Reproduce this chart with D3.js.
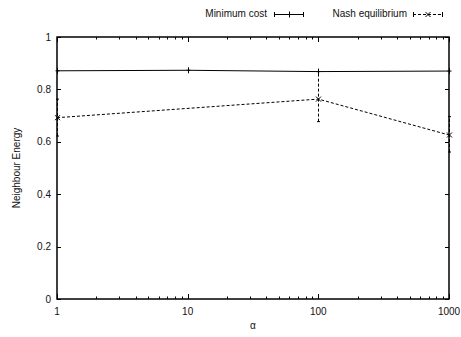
<!DOCTYPE html>
<html>
<head>
<meta charset="utf-8">
<script src="https://cdn.jsdelivr.net/npm/d3@7"></script>
<style>
  body { margin: 0; background: #fff; }
  text { font-family: "Liberation Sans", Arial, sans-serif; font-size: 10px; fill: #111; }
</style>
</head>
<body>
<svg width="461" height="337"></svg>
<script>
var alphas = [1, 10, 100, 1000];
var minCost = [0.871, 0.873, 0.868, 0.870];
var minCostLo = [0.868, 0.870, 0.865, 0.867];
var minCostHi = [0.874, 0.876, 0.871, 0.873];
var nashAlphas = [1, 100, 1000];
var nash = [0.692, 0.763, 0.626];
var nashLo = [0.622, 0.677, 0.561];
var nashHi = [0.763, 0.868, 0.696];
var yTicks = [0, 0.2, 0.4, 0.6, 0.8, 1];
var xTicks = [1, 10, 100, 1000];

var svg = d3.select("svg");
var pLeft = 57, pRight = 449, pTop = 37, pBottom = 299;

var x = d3.scaleLog().domain([1, 1000]).range([pLeft, pRight]);
var y = d3.scaleLinear().domain([0, 1]).range([pBottom, pTop]);

// minor ticks 2..9 per decade
var minor = [];
[1, 10, 100].forEach(function(d) {
  for (var k = 2; k <= 9; k++) minor.push(d * k);
});

var g = svg.append("g").attr("stroke", "#000").attr("stroke-width", 1);

// tick marks on all four sides (gnuplot mirror style)
g.selectAll(".xmaj").data(xTicks).enter().append("path")
  .attr("d", function(d) {
    var px = Math.round(x(d)) + 0.5;
    return "M" + px + "," + pBottom + "v-5M" + px + "," + pTop + "v5";
  });
g.selectAll(".xmin").data(minor).enter().append("path")
  .attr("d", function(d) {
    var px = Math.round(x(d)) + 0.5;
    return "M" + px + "," + pBottom + "v-2.5M" + px + "," + pTop + "v2.5";
  });
g.selectAll(".ymaj").data(yTicks).enter().append("path")
  .attr("d", function(d) {
    var py = Math.round(y(d)) + 0.5;
    return "M" + pLeft + "," + py + "h4M" + pRight + "," + py + "h-4";
  });

// frame
svg.append("rect")
  .attr("x", pLeft).attr("y", pTop)
  .attr("width", pRight - pLeft).attr("height", pBottom - pTop)
  .attr("fill", "none").attr("stroke", "#000").attr("stroke-width", 1.5);

// tick labels
svg.selectAll(".yl").data(yTicks).enter().append("text")
  .attr("x", pLeft - 6).attr("y", function(d) { return y(d) + 3.5; })
  .attr("text-anchor", "end")
  .text(function(d) { return d3.format("")(d); });
svg.selectAll(".xl").data(xTicks).enter().append("text")
  .attr("x", function(d) { return x(d); }).attr("y", pBottom + 16)
  .attr("text-anchor", "middle")
  .text(function(d) { return d; });

// axis titles
svg.append("text").attr("x", 253).attr("y", 329).attr("text-anchor", "middle").text("α");
svg.append("text")
  .attr("transform", "translate(20," + ((pTop + pBottom) / 2) + ") rotate(-90)")
  .attr("text-anchor", "middle")
  .text("Neighbour Energy");

var line = d3.line()
  .x(function(d) { return x(d[0]); })
  .y(function(d) { return y(d[1]); });

// Minimum cost series
var mc = svg.append("g").attr("stroke", "#000").attr("fill", "none").attr("stroke-width", 1);
mc.append("path").attr("d", line(alphas.map(function(a, i) { return [a, minCost[i]]; })));
alphas.forEach(function(a, i) {
  var px = Math.round(x(a)) + 0.5;
  mc.append("path").attr("d",
    "M" + px + "," + y(minCostLo[i]) + "V" + y(minCostHi[i]));
  mc.append("path").attr("d", "M" + px + "," + (y(minCost[i]) - 3) + "v6M" + (px - 2) + "," + y(minCost[i]) + "h4");
});

// Nash equilibrium series
var ne = svg.append("g").attr("stroke", "#000").attr("fill", "none").attr("stroke-width", 1);
ne.append("path").attr("stroke-dasharray", "3,2")
  .attr("d", line(nashAlphas.map(function(a, i) { return [a, nash[i]]; })));
nashAlphas.forEach(function(a, i) {
  var px = Math.round(x(a)) + 0.5;
  ne.append("path").attr("stroke-dasharray", "3,2").attr("d",
    "M" + px + "," + y(nashLo[i]) + "V" + y(nashHi[i]));
  ne.append("path").attr("d",
    "M" + (px - 1.5) + "," + y(nashLo[i]) + "h3M" + (px - 1.5) + "," + y(nashHi[i]) + "h3");
  var py = y(nash[i]);
  ne.append("path").attr("d",
    "M" + (px - 2.5) + "," + (py - 2.5) + "l5,5M" + (px - 2.5) + "," + (py + 2.5) + "l5,-5");
});

// legend
svg.append("text").attr("x", 267).attr("y", 17).attr("text-anchor", "end").text("Minimum cost");
var l1 = svg.append("g").attr("stroke", "#000").attr("fill", "none");
l1.append("path").attr("d", "M274,14.5H304M274.5,12v5M303.5,12v5M289.5,11.5v6");
svg.append("text").attr("x", 407).attr("y", 17).attr("text-anchor", "end").text("Nash equilibrium");
var l2 = svg.append("g").attr("stroke", "#000").attr("fill", "none");
l2.append("path").attr("stroke-dasharray", "3,2").attr("d", "M413,14.5H443");
l2.append("path").attr("d", "M413.5,12v5M442.5,12v5M425.5,12l5,5M425.5,17l5,-5");
</script>
</body>
</html>
